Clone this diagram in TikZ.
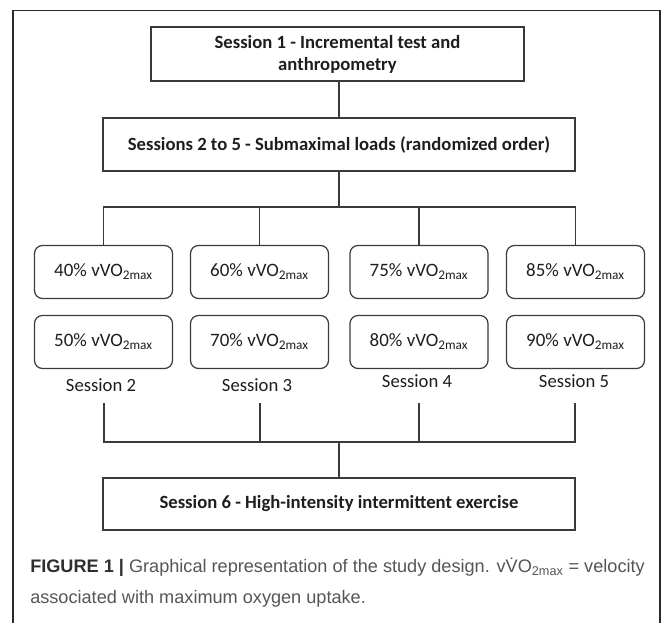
\documentclass[tikz,border=0pt]{standalone}
\usepackage{fontspec}
\setmainfont{Carlito}
\newfontfamily\capfont{Liberation Sans}
\definecolor{ln}{HTML}{3A3A3A}
\definecolor{frm}{HTML}{2A2A2A}
\definecolor{txt}{HTML}{1E1E1E}
\definecolor{capgray}{HTML}{555555}
\definecolor{capdark}{HTML}{2E2E2E}
\begin{document}
\begin{tikzpicture}[x=0.75pt,y=-0.75pt,
  box/.style={draw=ln, line width=0.9pt, minimum width=354pt, minimum height=39.75pt,
    inner sep=0pt, align=center, text=txt, font=\bfseries\fontsize{14}{16.5}\selectfont},
  rbox/.style={draw=ln, line width=0.9pt, rounded corners=6pt, minimum width=103.5pt,
    minimum height=39.75pt, inner sep=0pt, text=txt, font=\fontsize{14.2}{16}\selectfont},
  lbl/.style={inner sep=0pt, text=txt, font=\fontsize{14}{16}\selectfont},
  conn/.style={draw=ln, line width=0.8pt},
  captext/.style={anchor=base west, inner sep=0pt, text=capgray, font=\capfont\fontsize{13.6}{15}\selectfont}]
\useasboundingbox (0,0) rectangle (672,623);
% frame
\draw[frm, line width=1pt] (13,623) -- (13,10.5) -- (660,10.5) -- (660,623);
% main boxes
\node[box, minimum width=279.75pt, minimum height=40.5pt] (s1) at (337.5,54) {Session 1 - Incremental test and\\anthropometry};
\node[box] (s25) at (339,144.5) {Sessions 2 to 5 - Submaximal loads (randomized order)};
\node[box, minimum height=39pt] (s6) at (339,504) {Session 6 - High-intensity intermittent exercise};
% load boxes
\node[rbox] (a1) at (103.5,272) {40\% vVO\textsubscript{2max}};
\node[rbox] (a2) at (259.5,272) {60\% vVO\textsubscript{2max}};
\node[rbox] (a3) at (419,272) {75\% vVO\textsubscript{2max}};
\node[rbox] (a4) at (575.5,272) {85\% vVO\textsubscript{2max}};
\node[rbox] (b1) at (103.5,342) {50\% vVO\textsubscript{2max}};
\node[rbox] (b2) at (259.5,342) {70\% vVO\textsubscript{2max}};
\node[rbox] (b3) at (419,342) {80\% vVO\textsubscript{2max}};
\node[rbox] (b4) at (575.5,342) {90\% vVO\textsubscript{2max}};
% session labels
\node[lbl] (l2) at (101,385) {Session 2};
\node[lbl] (l3) at (257,385) {Session 3};
\node[lbl] (l4) at (417,381) {Session 4};
\node[lbl] (l5) at (574,381) {Session 5};
% connectors top
\coordinate (bt) at (339,207);
\draw[conn] (s25.north) -- (s25.north |- s1.south);
\draw[conn] (s25.south) -- (bt);
\draw[conn] (a1.north) |- (bt) -| (a4.north);
\draw[conn] (a2.north) -- (a2.north |- bt);
\draw[conn] (a3.north) -- (a3.north |- bt);
% connectors bottom
\coordinate (e1) at (104,403);
\coordinate (e2) at (260,403);
\coordinate (e3) at (419,403);
\coordinate (e4) at (575,403);
\coordinate (bb) at (339,442);
\draw[conn] (e1) |- (bb) -| (e4);
\draw[conn] (e2) -- (e2 |- bb);
\draw[conn] (e3) -- (e3 |- bb);
\draw[conn] (bb) -- (s6.north);
% caption
\node[captext] (c1) at (30,573) {{\bfseries\color{capdark}FIGURE 1 |} Graphical representation of the study design. v\.{V}O\textsubscript{2max} = velocity};
\node[captext] (c2) at (30,604) {associated with maximum oxygen uptake.};
\end{tikzpicture}
\end{document}
